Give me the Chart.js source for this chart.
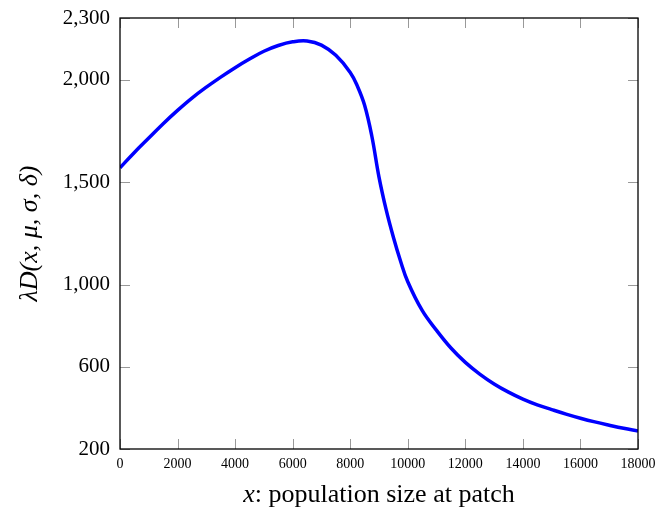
<!DOCTYPE html>
<html>
<head>
<meta charset="utf-8">
<script src="https://cdn.jsdelivr.net/npm/chart.js@4/dist/chart.umd.min.js"></script>
<style>
  html, body { margin: 0; padding: 0; background: #fff; }
  #wrap { width: 662px; height: 512px; }
</style>
</head>
<body>
<div id="wrap"><canvas id="myChart" width="662" height="512"></canvas></div>
<script>
// values
const popSize = [0, 500, 1000, 1500, 2000, 2500, 3000, 3500, 4000, 4500, 5000, 5500, 6000, 6500, 7000, 7500, 8000, 8250, 8500, 8750, 9000, 9250, 9500, 9750, 10000, 10500, 11000, 11500, 12000, 12500, 13000, 13500, 14000, 14500, 15000, 15500, 16000, 16500, 17000, 17500, 18000];
const lambdaD = [1570, 1645, 1715, 1785, 1850, 1910, 1963, 2012, 2058, 2100, 2138, 2166, 2184, 2188, 2168, 2118, 2035, 1968, 1875, 1725, 1525, 1365, 1232, 1115, 1015, 875, 778, 692, 622, 565, 517, 477, 443, 415, 392, 370, 350, 332, 316, 301, 288];
const yTicks = [200, 600, 1000, 1500, 2000, 2300];
const xTicks = [0, 2000, 4000, 6000, 8000, 10000, 12000, 14000, 16000, 18000];

const serif = "'Liberation Serif', 'DejaVu Serif', serif";

// frame, inward ticks on all four sides, and the axis titles
const frame = {
  id: 'frame',
  afterDraw(chart) {
    const c = chart.ctx, a = chart.chartArea;
    const xs = chart.scales.x, ys = chart.scales.y;
    c.save();
    c.strokeStyle = '#999';
    c.lineWidth = 1;
    const t = 10;
    xTicks.forEach(v => {
      const px = Math.round(xs.getPixelForValue(v)) + 0.5;
      c.beginPath();
      c.moveTo(px, a.bottom); c.lineTo(px, a.bottom - t);
      c.moveTo(px, a.top); c.lineTo(px, a.top + t);
      c.stroke();
    });
    yTicks.forEach(v => {
      const py = Math.round(ys.getPixelForValue(v)) + 0.5;
      c.beginPath();
      c.moveTo(a.left, py); c.lineTo(a.left + t, py);
      c.moveTo(a.right, py); c.lineTo(a.right - t, py);
      c.stroke();
    });
    c.strokeStyle = '#000';
    c.lineWidth = 1.3;
    c.strokeRect(a.left, a.top, a.right - a.left, a.bottom - a.top);

    // x title
    c.fillStyle = '#000';
    c.textBaseline = 'middle';
    c.font = 'italic 26px ' + serif;
    const w1 = c.measureText('x').width;
    c.font = '26px ' + serif;
    const rest = ': population size at patch';
    const w2 = c.measureText(rest).width;
    let sx = (a.left + a.right) / 2 - (w1 + w2) / 2;
    c.textAlign = 'left';
    c.font = 'italic 26px ' + serif;
    c.fillText('x', sx, 495);
    c.font = '26px ' + serif;
    c.fillText(rest, sx + w1, 495);

    // y title
    c.translate(30, (a.top + a.bottom) / 2);
    c.rotate(-Math.PI / 2);
    c.textAlign = 'center';
    c.font = 'italic 26px ' + serif;
    c.fillText('\u03BBD(x, \u03BC, \u03C3, \u03B4)', 0, 0);
    c.restore();
  }
};

const ctx = document.getElementById('myChart');

var myChart = new Chart(ctx, {
  type: 'line',
  data: {
    datasets: [{
      data: popSize.map((v, i) => ({ x: v, y: lambdaD[i] })),
      borderColor: '#0000ff',
      borderWidth: 3.5,
      pointRadius: 0,
      fill: false,
      tension: 0.4
    }]
  },
  options: {
    responsive: false,
    animation: false,
    layout: { padding: { left: 0, right: 24, top: 18, bottom: 0 } },
    plugins: { legend: { display: false }, tooltip: { enabled: false } },
    scales: {
      x: {
        type: 'linear',
        min: 0, max: 18000,
        afterBuildTicks: s => { s.ticks = xTicks.map(v => ({ value: v })); },
        afterFit: s => { s.height = 63; s.paddingLeft = 0; s.paddingRight = 0; },
        grid: { display: false, drawTicks: false },
        border: { display: false },
        ticks: {
          color: '#000',
          padding: 7,
          maxRotation: 0,
          font: { family: serif, size: 14 },
          callback: v => String(v)
        }
      },
      y: {
        type: 'linear',
        min: 200, max: 2300,
        afterBuildTicks: s => { s.ticks = yTicks.map(v => ({ value: v })); },
        afterFit: s => { s.width = 120; s.paddingTop = 0; s.paddingBottom = 0; },
        grid: { display: false, drawTicks: false },
        border: { display: false },
        ticks: {
          color: '#000',
          padding: 10,
          font: { family: serif, size: 21 },
          callback: v => v.toLocaleString('en-US')
        }
      }
    }
  },
  plugins: [frame]
});
</script>
</body>
</html>
